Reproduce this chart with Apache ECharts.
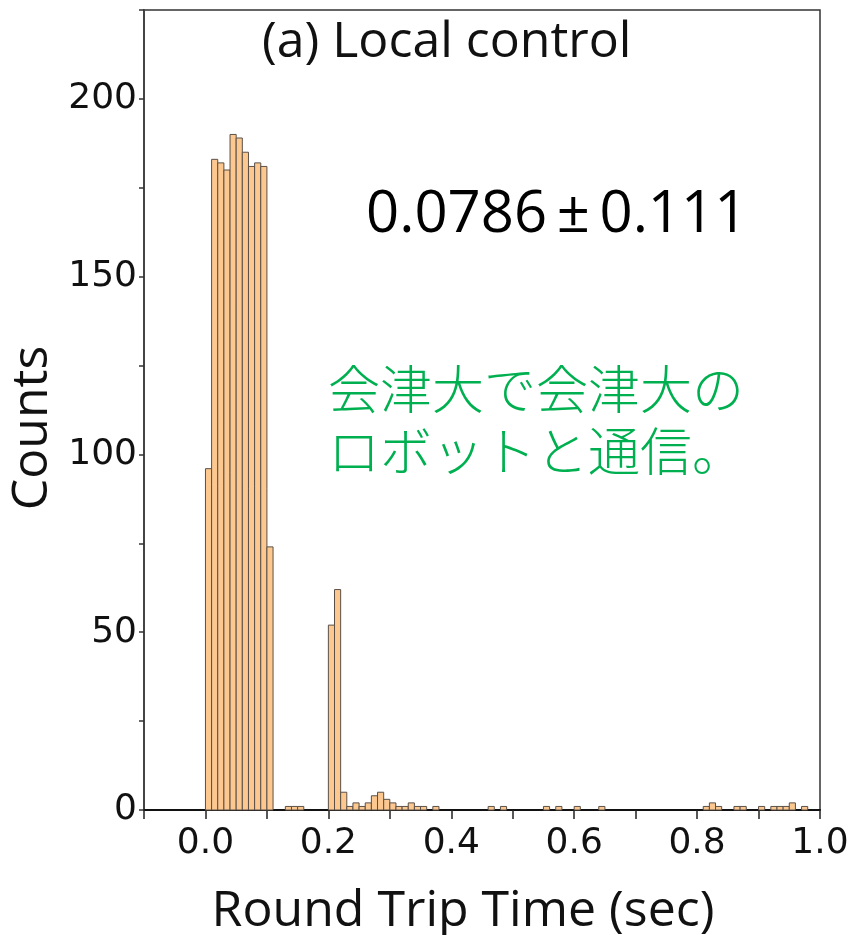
<!DOCTYPE html>
<html>
<head>
<meta charset="utf-8">
<script src="https://cdn.jsdelivr.net/npm/echarts@6/dist/echarts.min.js"></script>
<style>
html,body{margin:0;padding:0;background:#fff;}
#chart{width:858px;height:935px;}
</style>
</head>
<body>
<div id="chart"></div>
<script>
// Histogram bins (left edge of each bin, seconds) and counts
const binWidth = 0.01;
const binStarts = [0.00,0.01,0.02,0.03,0.04,0.05,0.06,0.07,0.08,0.09,0.10,
  0.13,0.14,0.15,
  0.20,0.21,0.22,0.23,0.24,0.25,0.26,0.27,0.28,0.29,0.30,0.31,0.32,0.33,0.34,0.35,0.37,
  0.46,0.48,0.55,0.57,0.60,0.64,
  0.81,0.82,0.83,0.86,0.87,0.90,0.92,0.93,0.94,0.95,0.97];
const counts = [96,183,182,180,190,189,185,181,182,181,74,
  1,1,1,
  52,62,5,1,2,1,2,4,5,3,2,1,1,2,1,1,1,
  1,1,1,1,1,1,
  1,2,1,1,1,1,1,1,1,2,1];
const xTickLabels = ['0.0','0.2','0.4','0.6','0.8','1.0'];
const yTickLabels = ['0','50','100','150','200'];
const titleText = '(a) Local control';
const statText = '0.0786\u2009\u00B1\u20090.111';
const noteLines = ['会津大で会津大の', 'ロボットと通信。'];
const xName = 'Round Trip Time (sec)';
const yName = 'Counts';

const data = binStarts.map((b, i) => [b, counts[i]]);

const chart = echarts.init(document.getElementById('chart'), null, {renderer: 'canvas'});
chart.setOption({
  animation: false,
  backgroundColor: '#fff',
  grid: {left: 144, right: 38, top: 10, bottom: 125, show: true,
         outerBoundsMode: 'none', containLabel: false,
         borderColor: '#333', borderWidth: 1.5, backgroundColor: 'transparent'},
  xAxis: {
    type: 'value', min: -0.1, max: 1.0, interval: 0.1,
    name: xName, nameLocation: 'middle', nameGap: 77,
    nameTextStyle: {fontFamily: 'Open Sans', fontSize: 50, color: '#111', padding: [0, 38, 0, 0]},
    axisLine: {show: true, onZero: false, lineStyle: {color: '#111', width: 2}},
    axisTick: {show: true, length: 9, inside: false, lineStyle: {color: '#222', width: 1.5}},
    axisLabel: {
      margin: 16, fontFamily: 'DejaVu Sans', fontSize: 36, color: '#111',
      showMinLabel: true, showMaxLabel: true,
      formatter: function (v) {
        const k = Math.round(v * 10);
        if (k < 0 || k % 2 !== 0) return '';
        const s = (k / 10).toFixed(1);
        return xTickLabels.indexOf(s) >= 0 ? s : '';
      }
    },
    splitLine: {show: false}
  },
  yAxis: {
    type: 'value', min: 0, max: 225, interval: 25,
    name: yName, nameLocation: 'middle', nameGap: 84, nameRotate: 90,
    nameTextStyle: {fontFamily: 'Open Sans', fontSize: 50, color: '#111', padding: [0, 36, 0, 0]},
    axisLine: {show: true, onZero: false, lineStyle: {color: '#444', width: 2}},
    axisTick: {show: true, length: 5, inside: false, lineStyle: {color: '#333', width: 1.5}},
    axisLabel: {
      margin: 7, fontFamily: 'DejaVu Sans', fontSize: 36, color: '#111',
      formatter: function (v) {
        const s = String(Math.round(v));
        return yTickLabels.indexOf(s) >= 0 && Math.abs(v - Math.round(v)) < 1e-6 ? s : '';
      }
    },
    splitLine: {show: false}
  },
  series: [{
    type: 'custom',
    data: data,
    encode: {x: 0, y: 1},
    renderItem: function (params, api) {
      const x0 = api.value(0);
      const c = api.value(1);
      const p1 = api.coord([x0, c]);
      const p2 = api.coord([x0 + binWidth, 0]);
      return {
        type: 'rect',
        shape: {x: p1[0], y: p1[1], width: p2[0] - p1[0], height: p2[1] - p1[1]},
        style: {fill: '#FCC890', stroke: '#5a5048', lineWidth: 1}
      };
    }
  }],
  graphic: [
    {type: 'text', left: 262, top: 18, z: 10,
     style: {text: titleText, font: '50px "Open Sans"', fill: '#111'}},
    {type: 'text', left: 366, top: 186, z: 10,
     style: {text: statText, font: '58px "Open Sans"', fill: '#000'}},
    {type: 'text', left: 328, top: 358, z: 10,
     style: {text: noteLines.join('\n'), font: '300 52px "Noto Sans CJK JP"', lineHeight: 62, fill: '#00B050'}}
  ]
});
</script>
</body>
</html>
